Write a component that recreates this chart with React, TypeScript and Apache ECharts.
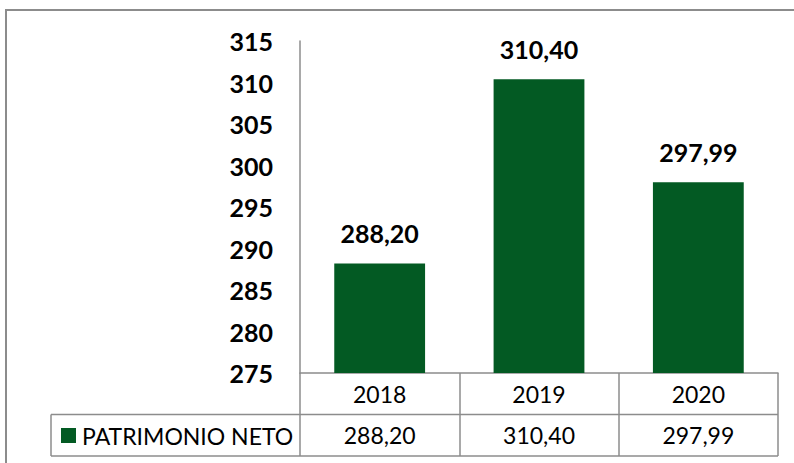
import React, { useEffect, useRef } from "react";
import * as echarts from "echarts";

const categories = ["2018", "2019", "2020"];
const seriesName = "PATRIMONIO NETO";
const values = [288.2, 310.4, 297.99];
const yMin = 275;
const yMax = 315;
const yStep = 5;

const fmt = (v: number) => v.toFixed(2).replace(".", ",");

const W = 794;
const H = 463;
const GL = 300;
const GR = 778;
const GT = 41;
const GB = 373;
const ROW = 41.5;
const LEG_L = 51;
const LINE = "#8c8c8c";
const FONT = "Lato";

export default function App() {
  const ref = useRef<HTMLDivElement>(null);
  useEffect(() => {
    if (!ref.current) return;
    const chart = echarts.init(ref.current, undefined, { renderer: "svg" });
    chart.setOption({
      animation: false,
      backgroundColor: "#ffffff",
      textStyle: { fontFamily: FONT },
      grid: { left: GL, right: W - GR, top: GT, bottom: H - GB, containLabel: false },
      legend: {
        data: [seriesName],
        left: 61,
        top: 424,
        padding: 0,
        icon: "rect",
        itemWidth: 15,
        itemHeight: 15,
        itemGap: 6,
        textStyle: { fontSize: 23, color: "#000", fontFamily: FONT, padding: [0, 0, 0, 1] },
      },
      xAxis: {
        type: "category",
        data: categories,
        axisLine: { show: true, lineStyle: { color: LINE, width: 1.5 } },
        axisTick: { show: true, interval: 0, length: ROW * 2, inside: false, alignWithLabel: false, lineStyle: { color: LINE, width: 1.5 } },
        axisLabel: {
          interval: 0,
          margin: 0,
          formatter: (val: string, idx: number) => `{y|${val}}\n{v|${fmt(values[idx])}}`,
          rich: {
            y: { fontSize: 23, lineHeight: ROW, color: "#000", fontFamily: FONT },
            v: { fontSize: 23, lineHeight: ROW, color: "#000", fontFamily: FONT },
          },
        },
      },
      yAxis: {
        type: "value",
        min: yMin,
        max: yMax,
        interval: yStep,
        splitLine: { show: false },
        axisLine: { show: true, lineStyle: { color: LINE, width: 1.5 } },
        axisTick: { show: false },
        axisLabel: { fontSize: 25, fontWeight: "bold", color: "#000", margin: 27, fontFamily: FONT },
      },
      series: [
        {
          name: seriesName,
          type: "bar",
          data: values,
          barWidth: "57%",
          itemStyle: { color: "#035a23" },
          label: {
            show: true,
            position: "top",
            distance: 18,
            formatter: (p: any) => fmt(p.value),
            fontSize: 25,
            fontWeight: "bold",
            color: "#000",
            fontFamily: FONT,
          },
        },
      ],
      graphic: [
        { type: "rect", shape: { x: 6, y: 10, width: W + 20, height: H + 20 }, style: { fill: "none", stroke: LINE, lineWidth: 2 }, silent: true },
        { type: "line", shape: { x1: LEG_L, y1: GB + ROW, x2: GR, y2: GB + ROW }, style: { stroke: LINE, lineWidth: 1.5 } },
        { type: "line", shape: { x1: LEG_L, y1: GB + ROW * 2, x2: GR, y2: GB + ROW * 2 }, style: { stroke: LINE, lineWidth: 1.5 } },
        { type: "line", shape: { x1: LEG_L, y1: GB + ROW, x2: LEG_L, y2: GB + ROW * 2 }, style: { stroke: LINE, lineWidth: 1.5 } },
      ],
    });
    return () => chart.dispose();
  }, []);
  return <div ref={ref} style={{ width: W, height: H, position: "absolute", left: 0, top: 0 }} />;
}
